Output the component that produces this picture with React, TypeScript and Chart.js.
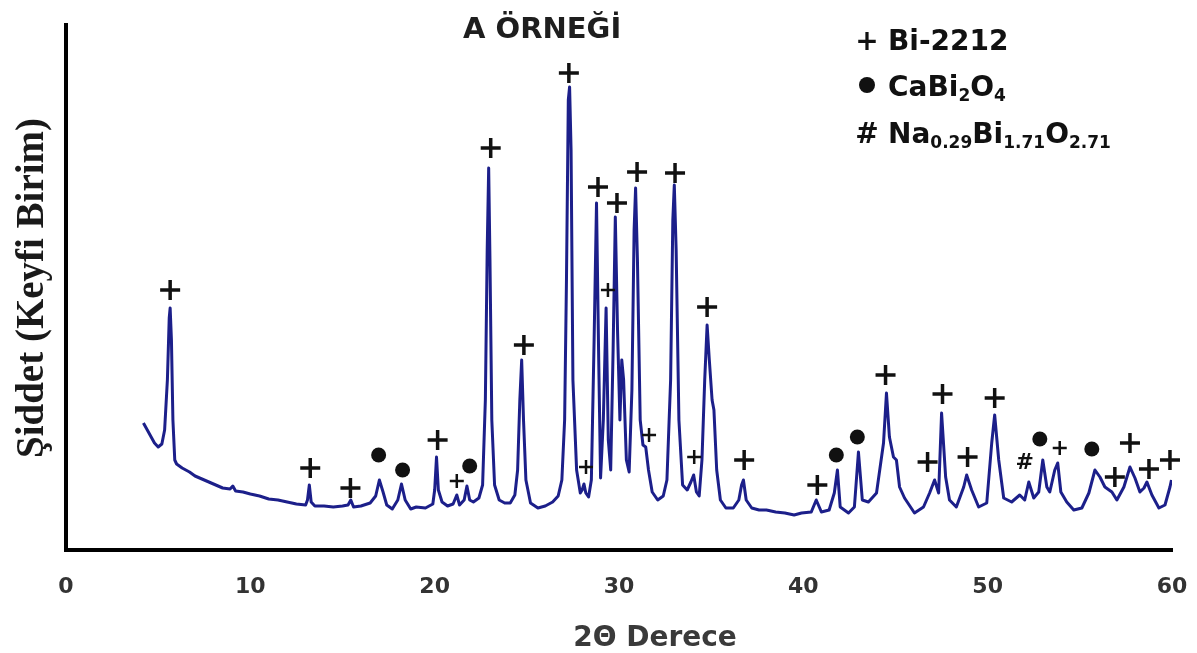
import React, { useEffect, useRef } from 'react';
import { Chart, registerables } from 'chart.js';

Chart.register(...registerables);

// ---- DATA ----
const twoTheta = [
  4.2, 4.5, 4.8, 5.0, 5.2, 5.35, 5.5, 5.6, 5.65, 5.72, 5.8, 5.9, 6.0, 6.3, 6.7, 7.0, 7.5, 8.0, 8.5, 8.9,
  9.05, 9.2, 9.6, 10.0, 10.5, 11.0, 11.5, 12.0, 12.5, 13.0, 13.1, 13.2, 13.3, 13.5, 14.0, 14.5, 15.0, 15.3, 15.45, 15.6,
  16.0, 16.5, 16.8, 17.0, 17.2, 17.4, 17.7, 18.0, 18.2, 18.4, 18.7, 19.0, 19.5, 19.9, 20.0, 20.1, 20.2, 20.4, 20.7, 21.0,
  21.2, 21.35, 21.6, 21.75, 21.9, 22.1, 22.4, 22.6, 22.75, 22.85, 22.93, 23.0, 23.1, 23.25, 23.5, 23.8, 24.1, 24.35, 24.5, 24.62,
  24.72, 24.82, 24.95, 25.2, 25.6, 26.0, 26.4, 26.7, 26.9, 27.05, 27.15, 27.25, 27.32, 27.4, 27.5, 27.7, 27.9, 28.0, 28.1, 28.2,
  28.35, 28.5, 28.65, 28.78, 28.9, 29.0, 29.15, 29.3, 29.42, 29.55, 29.68, 29.8, 29.92, 30.05, 30.15, 30.25, 30.4, 30.55, 30.7, 30.82,
  30.9, 31.0, 31.15, 31.3, 31.45, 31.6, 31.8, 32.1, 32.4, 32.6, 32.8, 32.92, 33.0, 33.1, 33.25, 33.45, 33.7, 33.9, 34.05, 34.2,
  34.35, 34.5, 34.65, 34.78, 34.9, 35.05, 35.15, 35.3, 35.5, 35.8, 36.2, 36.5, 36.65, 36.75, 36.9, 37.2, 37.6, 38.0, 38.5, 39.0,
  39.5, 39.9, 40.43, 40.7, 40.98, 41.4, 41.68, 41.85, 42.0, 42.45, 42.77, 42.99, 43.2, 43.53, 43.97, 44.35, 44.51, 44.67, 44.89, 45.05,
  45.22, 45.49, 46.03, 46.52, 46.85, 47.12, 47.34, 47.5, 47.72, 47.93, 48.3, 48.7, 48.86, 49.13, 49.51, 49.95, 50.22, 50.38, 50.6, 50.87,
  51.3, 51.74, 52.01, 52.23, 52.5, 52.77, 52.99, 53.21, 53.37, 53.64, 53.8, 53.97, 54.29, 54.67, 55.11, 55.49, 55.82, 56.09, 56.36, 56.74,
  57.01, 57.39, 57.72, 57.99, 58.26, 58.48, 58.64, 58.91, 59.29, 59.62, 59.89, 59.97,
];

const intensity = [
  127, 117, 107, 103, 106, 120, 170, 232, 242, 210, 130, 90, 86, 82, 78, 74, 70, 66, 62, 61,
  64, 59, 58, 56, 54, 51, 50, 48, 46, 45, 50, 65, 48, 44, 44, 43, 44, 45, 50, 43,
  44, 47, 54, 70, 58, 45, 41, 50, 66, 50, 41, 43, 42, 46, 60, 93, 60, 48, 44, 46,
  55, 45, 50, 64, 50, 48, 52, 65, 150, 300, 382, 290, 130, 65, 50, 47, 47, 55, 80, 150,
  190, 130, 70, 47, 42, 44, 48, 54, 70, 130, 270, 450, 463, 400, 170, 80, 57, 60, 66, 57,
  53, 70, 210, 347, 190, 72, 130, 242, 110, 80, 200, 333, 220, 130, 190, 170, 90, 78, 160, 320,
  362, 290, 130, 105, 103, 80, 58, 50, 54, 70, 170, 330, 365, 300, 130, 65, 60, 68, 75, 58,
  54, 90, 170, 225, 190, 150, 140, 80, 50, 42, 42, 50, 65, 70, 50, 42, 40, 40, 38, 37,
  35, 37, 38, 50, 38, 40, 57, 80, 43, 37, 43, 98, 50, 48, 57, 107, 157, 113, 93, 90,
  63, 52, 37, 43, 57, 70, 57, 137, 73, 50, 43, 63, 75, 60, 43, 47, 107, 135, 90, 52,
  48, 55, 50, 68, 52, 58, 90, 63, 58, 80, 87, 58, 48, 40, 42, 57, 80, 73, 63, 58,
  50, 63, 83, 72, 58, 62, 68, 55, 42, 45, 63, 70,
];

// phase labels placed above peaks
const markerTheta = [
  5.65, 13.25, 15.43, 16.96, 18.26, 20.16, 21.2, 21.9, 23.04, 24.84, 27.28, 28.21, 28.86, 29.4, 29.89, 30.98, 31.63, 33.04, 34.08, 34.78,
  36.79, 40.76, 41.79, 42.93, 44.46, 46.74, 47.55, 48.91, 50.38, 52.01, 52.83, 53.91, 55.65, 56.9, 57.72, 58.75, 59.89,
];
const markerIntensity = [
  260, 82, 62, 95, 80, 110, 69, 84, 402, 205, 477, 83, 363, 260, 347, 378, 115, 377, 93, 243,
  90, 65, 95, 113, 175, 88, 156, 93, 152, 87, 111, 102, 101, 73, 107, 81, 90,
];
const markerPhase = [
  '+', '+', '+', '●', '●', '+', '+', '●', '+', '+', '+', '+', '+', '+', '+', '+', '+', '+', '+', '+',
  '+', '+', '●', '●', '+', '+', '+', '+', '+', '#', '●', '+', '●', '+', '+', '+', '+',
];
const minorMarkerTheta = [21.2, 28.21, 29.4, 31.63, 34.08, 53.91];

const xTickValues = [0, 10, 20, 30, 40, 50, 60];

const chartTitle = 'A ÖRNEĞİ';
const xTitle = '2Θ Derece';
const yTitle = 'Şiddet (Keyfi Birim)';
const legendSymbols = ['+', '●', '#'];
const legendParts: [string, boolean][][] = [
  [['Bi-2212', false]],
  [['CaBi', false], ['2', true], ['O', false], ['4', true]],
  [['Na', false], ['0.29', true], ['Bi', false], ['1.71', true], ['O', false], ['2.71', true]],
];

const LINE_COLOR = '#1c1f8a';
const INK = '#111111';

export default function App() {
  const ref = useRef<HTMLCanvasElement>(null);

  useEffect(() => {
    document.body.style.margin = '0';
    const canvas = ref.current;
    if (!canvas) return;

    const overlay = {
      id: 'overlay',
      afterDatasetsDraw(chart: any) {
        const { ctx, scales } = chart;
        const xs = scales.x;
        const ys = scales.y;
        ctx.save();
        ctx.fillStyle = INK;
        ctx.strokeStyle = INK;
        for (let i = 0; i < markerTheta.length; i++) {
          const cx = xs.getPixelForValue(markerTheta[i]);
          const cy = ys.getPixelForValue(markerIntensity[i]);
          const minor = minorMarkerTheta.includes(markerTheta[i]);
          const sym = markerPhase[i];
          if (sym === '+') {
            const h = minor ? 7 : 10;
            ctx.lineWidth = minor ? 2.5 : 3.5;
            ctx.beginPath();
            ctx.moveTo(cx - h, cy);
            ctx.lineTo(cx + h, cy);
            ctx.moveTo(cx, cy - h);
            ctx.lineTo(cx, cy + h);
            ctx.stroke();
          } else if (sym === '●') {
            ctx.beginPath();
            ctx.arc(cx, cy, 7.5, 0, Math.PI * 2);
            ctx.fill();
          } else {
            ctx.font = 'bold 22px "DejaVu Sans"';
            ctx.textAlign = 'center';
            ctx.textBaseline = 'middle';
            ctx.fillText(sym, cx, cy);
          }
        }
        ctx.restore();
      },
      afterDraw(chart: any) {
        const { ctx } = chart;
        ctx.save();
        // title
        ctx.fillStyle = '#1e1e1e';
        ctx.font = 'bold 29px "DejaVu Sans"';
        ctx.textAlign = 'left';
        ctx.textBaseline = 'alphabetic';
        ctx.fillText(chartTitle, 463, 38);

        // x title
        ctx.fillStyle = '#3a3a3a';
        ctx.font = 'bold 28px "DejaVu Sans"';
        ctx.textAlign = 'center';
        ctx.fillText(xTitle, 655, 646);

        // y title
        ctx.save();
        ctx.translate(43, 288);
        ctx.rotate(-Math.PI / 2);
        ctx.fillStyle = '#1a1a1a';
        ctx.font = 'bold 39px "Liberation Serif"';
        ctx.textAlign = 'center';
        ctx.fillText(yTitle, 0, 0);
        ctx.restore();

        // legend
        const baselines = [50, 96, 143];
        ctx.fillStyle = INK;
        for (let r = 0; r < legendSymbols.length; r++) {
          const b = baselines[r];
          const sym = legendSymbols[r];
          if (sym === '●') {
            ctx.beginPath();
            ctx.arc(867, b - 11, 8, 0, Math.PI * 2);
            ctx.fill();
          } else {
            ctx.font = 'bold 28px "DejaVu Sans"';
            ctx.textAlign = 'center';
            ctx.fillText(sym, 867, b);
          }
          let x = 888;
          ctx.textAlign = 'left';
          for (const [txt, sub] of legendParts[r]) {
            ctx.font = sub ? 'bold 17px "DejaVu Sans"' : 'bold 28px "DejaVu Sans"';
            ctx.fillText(txt, x, sub ? b + 5 : b);
            x += ctx.measureText(txt).width;
          }
        }
        ctx.restore();
      },
    };

    const chart = new Chart(canvas, {
      type: 'line',
      data: {
        datasets: [
          {
            data: twoTheta.map((t, i) => ({ x: t, y: intensity[i] })),
            borderColor: LINE_COLOR,
            borderWidth: 3,
            pointRadius: 0,
            tension: 0,
            fill: false,
            borderJoinStyle: 'round',
          },
        ],
      },
      options: {
        responsive: false,
        animation: false,
        events: [],
        layout: { padding: { top: 25, left: 66, right: 25, bottom: 0 } },
        plugins: { legend: { display: false }, tooltip: { enabled: false }, title: { display: false } },
        scales: {
          x: {
            type: 'linear',
            min: 0,
            max: 60,
            afterBuildTicks: (s: any) => {
              s.ticks = xTickValues.map((v) => ({ value: v }));
            },
            afterFit: (s: any) => {
              s.height = 103;
              s.paddingLeft = 0;
              s.paddingRight = 0;
            },
            grid: { display: false, drawTicks: false },
            border: { display: true, color: '#000', width: 4 },
            ticks: {
              color: '#333',
              font: { family: '"DejaVu Sans"', size: 22, weight: 'bold' },
              padding: 24,
              maxRotation: 0,
              autoSkip: false,
            },
          },
          y: {
            type: 'linear',
            min: 0,
            max: 525,
            afterFit: (s: any) => {
              s.width = 0;
              s.paddingTop = 0;
              s.paddingBottom = 0;
            },
            grid: { display: false, drawTicks: false },
            border: { display: true, color: '#000', width: 4 },
            ticks: { display: false },
          },
        },
      },
      plugins: [overlay],
    } as any);

    return () => chart.destroy();
  }, []);

  return (
    <div style={{ position: 'absolute', left: 0, top: 0, width: 1197, height: 653, background: '#fff' }}>
      <canvas ref={ref} width={1197} height={653} style={{ display: 'block', width: 1197, height: 653 }} />
    </div>
  );
}
